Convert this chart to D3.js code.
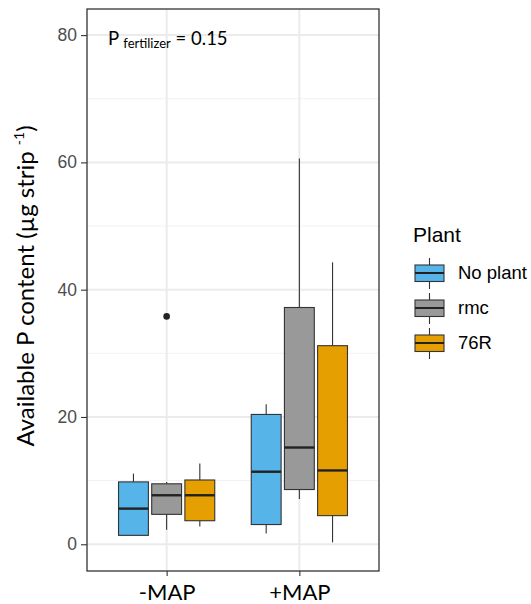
<!DOCTYPE html>
<html>
<head>
<meta charset="utf-8">
<script src="https://cdn.jsdelivr.net/npm/d3@7"></script>
<style>
  html, body { margin: 0; padding: 0; background: #fff; }
  svg { display: block; }
</style>
</head>
<body>
<svg id="chart" width="531" height="604"></svg>
<script>
// Fertilizer treatments on the x axis, plant treatments as dodged boxes
const treatments = ["-MAP", "+MAP"];
const plants = ["No plant", "rmc", "76R"];
const plantColors = ["#56B4E9", "#999999", "#E69F00"];

// Five-number summaries per treatment, ordered as in `plants`
const lowerWhisker = [[1.4, 2.3, 2.8], [1.7, 7.1, 0.3]];
const lowerHinge   = [[1.4, 4.7, 3.7], [3.1, 8.6, 4.5]];
const medians      = [[5.6, 7.7, 7.7], [11.4, 15.2, 11.6]];
const upperHinge   = [[9.8, 9.5, 10.1], [20.4, 37.2, 31.2]];
const upperWhisker = [[11.1, 9.8, 12.7], [22.0, 60.6, 44.3]];
const outliers     = [[[], [35.8], []], [[], [], []]];

const yTicks = [0, 20, 40, 60, 80];
const yMinor = [10, 30, 50, 70];

const svg = d3.select("#chart");
const panel = { left: 87, right: 379, top: 9, bottom: 571 };
const humanist = "Lato, 'Open Sans', sans-serif";
const grotesk = "'Liberation Sans', Arial, sans-serif";

// Category centres with ggplot-style discrete expansion of 0.6 units
const pw = panel.right - panel.left;
const xCenter = d3.scalePoint().domain(treatments)
  .range([panel.left + pw * 0.6 / 2.2, panel.left + pw * 1.6 / 2.2]);
const unit = xCenter(treatments[1]) - xCenter(treatments[0]);
const dodge = d3.scaleBand().domain(plants)
  .range([-0.375 * unit, 0.375 * unit]);
const boxW = dodge.bandwidth() * 0.9;

const y = d3.scaleLinear().domain([-4.2, 84.1]).range([panel.bottom, panel.top]);

// Panel grid
const grid = svg.append("g");
grid.selectAll("line.minor").data(yMinor).join("line")
  .attr("x1", panel.left).attr("x2", panel.right)
  .attr("y1", d => y(d)).attr("y2", d => y(d))
  .attr("stroke", "#F2F2F2").attr("stroke-width", 1);
grid.selectAll("line.major").data(yTicks).join("line")
  .attr("x1", panel.left).attr("x2", panel.right)
  .attr("y1", d => y(d)).attr("y2", d => y(d))
  .attr("stroke", "#EBEBEB").attr("stroke-width", 2);
grid.selectAll("line.vmajor").data(treatments).join("line")
  .attr("x1", d => xCenter(d)).attr("x2", d => xCenter(d))
  .attr("y1", panel.top).attr("y2", panel.bottom)
  .attr("stroke", "#EBEBEB").attr("stroke-width", 2);

// Boxes
const boxes = [];
treatments.forEach((t, ti) => {
  plants.forEach((p, pi) => {
    boxes.push({
      t, p, pi,
      cx: xCenter(t) + dodge(p) + dodge.bandwidth() / 2,
      lw: lowerWhisker[ti][pi], lh: lowerHinge[ti][pi], med: medians[ti][pi],
      uh: upperHinge[ti][pi], uw: upperWhisker[ti][pi], out: outliers[ti][pi]
    });
  });
});

const g = svg.append("g");
const stroke = "#333333";
g.selectAll("line.wu").data(boxes).join("line")
  .attr("x1", d => d.cx).attr("x2", d => d.cx)
  .attr("y1", d => y(d.uh)).attr("y2", d => y(d.uw))
  .attr("stroke", stroke).attr("stroke-width", 1.1);
g.selectAll("line.wl").data(boxes).join("line")
  .attr("x1", d => d.cx).attr("x2", d => d.cx)
  .attr("y1", d => y(d.lh)).attr("y2", d => y(d.lw))
  .attr("stroke", stroke).attr("stroke-width", 1.1);
g.selectAll("rect.box").data(boxes).join("rect")
  .attr("x", d => d.cx - boxW / 2).attr("width", boxW)
  .attr("y", d => y(d.uh)).attr("height", d => y(d.lh) - y(d.uh))
  .attr("fill", d => plantColors[d.pi])
  .attr("stroke", stroke).attr("stroke-width", 1.1);
g.selectAll("line.med").data(boxes).join("line")
  .attr("x1", d => d.cx - boxW / 2).attr("x2", d => d.cx + boxW / 2)
  .attr("y1", d => y(d.med)).attr("y2", d => y(d.med))
  .attr("stroke", "#222").attr("stroke-width", 2.4);
g.selectAll("g.out").data(boxes).join("g")
  .selectAll("circle").data(d => d.out.map(v => ({ cx: d.cx, v }))).join("circle")
  .attr("cx", d => d.cx).attr("cy", d => y(d.v)).attr("r", 3.3)
  .attr("fill", "#222");

// Panel border
svg.append("rect")
  .attr("x", panel.left).attr("y", panel.top)
  .attr("width", panel.right - panel.left).attr("height", panel.bottom - panel.top)
  .attr("fill", "none").attr("stroke", "#333333").attr("stroke-width", 1.3);

// Axes
const yAxis = d3.axisLeft(y).tickValues(yTicks).tickSize(6).tickPadding(4);
const ya = svg.append("g").attr("transform", `translate(${panel.left},0)`).call(yAxis);
ya.select(".domain").remove();
ya.selectAll(".tick line").attr("stroke", "#333").attr("stroke-width", 1.1);
ya.selectAll(".tick text").attr("fill", "#4D4D4D")
  .attr("font-family", grotesk).attr("font-size", 17.5);

const xAxis = d3.axisBottom(xCenter).tickSize(5).tickPadding(8);
const xa = svg.append("g").attr("transform", `translate(0,${panel.bottom})`).call(xAxis);
xa.select(".domain").remove();
xa.selectAll(".tick line").attr("stroke", "#333").attr("stroke-width", 1.1);
xa.selectAll(".tick text").attr("fill", "#000")
  .attr("font-family", humanist).attr("font-size", 22)
  .attr("dy", "0.71em");

// Y axis title
const yt = svg.append("text")
  .attr("transform", `translate(34,${(panel.top + panel.bottom) / 2 - 4}) rotate(-90)`)
  .attr("text-anchor", "middle")
  .attr("font-family", humanist).attr("font-size", 24).attr("fill", "#000");
yt.append("tspan").text("Available P content (µg strip ");
yt.append("tspan").attr("font-size", 14).attr("dy", -10).text("-1");
yt.append("tspan").attr("dy", 10).text(")");

// Fertilizer p-value annotation
const ann = svg.append("text")
  .attr("x", 108).attr("y", 45)
  .attr("font-family", humanist).attr("font-size", 18.5).attr("fill", "#000");
ann.append("tspan").text("P ");
ann.append("tspan").attr("font-size", 13).attr("dy", 3).text("fertilizer");
ann.append("tspan").attr("dy", -3).text(" = 0.15");

// Legend
const leg = svg.append("g").attr("transform", "translate(413,0)");
leg.append("text").attr("x", 0).attr("y", 242)
  .attr("font-family", grotesk).attr("font-size", 21)
  .attr("fill", "#000").text("Plant");
const rowY = d3.scalePoint().domain(plants).range([273, 343]);
const keys = leg.selectAll("g.key").data(plants).join("g")
  .attr("transform", d => `translate(0,${rowY(d)})`);
keys.append("line").attr("x1", 16.5).attr("x2", 16.5).attr("y1", -15).attr("y2", 16)
  .attr("stroke", stroke).attr("stroke-width", 1.1);
keys.append("rect").attr("x", 2).attr("y", -8).attr("width", 29).attr("height", 16.5)
  .attr("fill", (d, i) => plantColors[i]).attr("stroke", stroke).attr("stroke-width", 1.1);
keys.append("line").attr("x1", 2).attr("x2", 31).attr("y1", 0).attr("y2", 0)
  .attr("stroke", "#222").attr("stroke-width", 2);
keys.append("text").attr("x", 45).attr("y", 0).attr("dy", "0.35em")
  .attr("font-family", grotesk).attr("font-size", 18.5)
  .attr("fill", "#000").text(d => d);
</script>
</body>
</html>
